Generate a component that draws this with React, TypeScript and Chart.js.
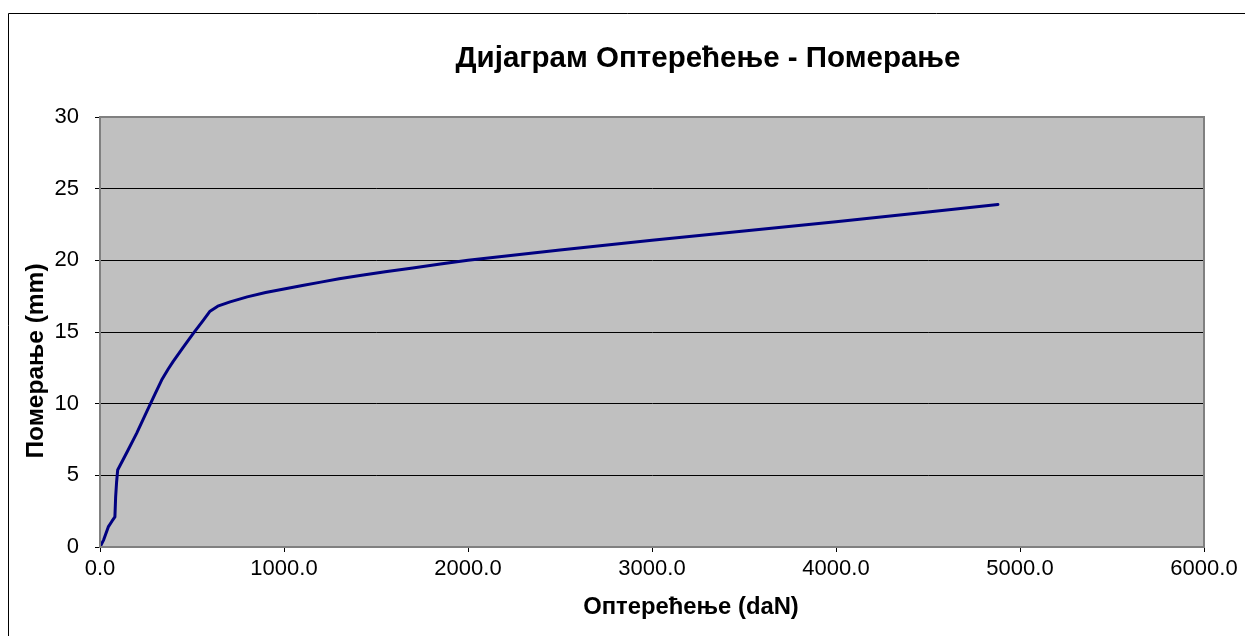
import React, { useEffect, useRef } from "react";
import { Chart, registerables } from "chart.js";

Chart.register(...registerables);

const loadDaN: number[] = [0, 20, 45, 65, 81, 85, 90, 96, 150, 199, 254, 300, 335, 370, 398, 450, 507, 560, 598, 640, 707, 800, 900, 1000, 1100, 1200, 1300, 1413, 1550, 1700, 1850, 2000, 2500, 3000, 3500, 4000, 4500, 4880];
const displacementMm: number[] = [0, 0.5, 1.4, 1.8, 2.1, 3.5, 4.5, 5.37, 6.7, 7.93, 9.44, 10.7, 11.65, 12.4, 12.95, 13.9, 14.9, 15.8, 16.45, 16.8, 17.1, 17.45, 17.75, 18.0, 18.25, 18.48, 18.71, 18.94, 19.2, 19.47, 19.74, 20.0, 20.72, 21.4, 22.05, 22.7, 23.38, 23.9];

const chartTitle = "Дијаграм Оптерећење - Померање";
const xTitle = "Оптерећење (daN)";
const yTitle = "Померање (mm)";

const FONT = "Arial, 'Liberation Sans', sans-serif";

export default function App() {
  const ref = useRef<HTMLCanvasElement | null>(null);

  useEffect(() => {
    if (!ref.current) return;
    const decor = {
      id: "decor",
      beforeDraw(chart: any) {
        const { ctx, chartArea: a } = chart;
        ctx.save();
        ctx.fillStyle = "#ffffff";
        ctx.fillRect(0, 0, chart.width, chart.height);
        ctx.fillStyle = "#c0c0c0";
        ctx.fillRect(a.left, a.top, a.right - a.left, a.bottom - a.top);
        ctx.strokeStyle = "#000000";
        ctx.lineWidth = 1;
        ctx.beginPath();
        ctx.moveTo(8.5, chart.height + 5);
        ctx.lineTo(8.5, 13.5);
        ctx.lineTo(chart.width + 5, 13.5);
        ctx.stroke();
        ctx.restore();
      },
      afterDraw(chart: any) {
        const { ctx, chartArea: a } = chart;
        ctx.save();
        ctx.strokeStyle = "#808080";
        ctx.lineWidth = 2;
        ctx.strokeRect(a.left, a.top, a.right - a.left, a.bottom - a.top);
        ctx.fillStyle = "#000000";
        ctx.textAlign = "center";
        ctx.textBaseline = "middle";
        ctx.font = `bold 29.5px ${FONT}`;
        ctx.fillText(chartTitle, 708, 59);
        ctx.font = `bold 23.8px ${FONT}`;
        ctx.fillText(xTitle, 691, 607);
        ctx.translate(36, 361);
        ctx.rotate(-Math.PI / 2);
        ctx.font = `bold 24.5px ${FONT}`;
        ctx.fillText(yTitle, 0, 0);
        ctx.restore();
      },
    };

    const chart = new Chart(ref.current, {
      type: "scatter",
      data: {
        datasets: [
          {
            data: loadDaN.map((x, i) => ({ x, y: displacementMm[i] })),
            showLine: true,
            borderColor: "#000080",
            borderWidth: 3,
            borderJoinStyle: "round",
            borderCapStyle: "round",
            pointRadius: 0,
            tension: 0,
          } as any,
        ],
      },
      options: {
        animation: false,
        responsive: false,
        devicePixelRatio: 1,
        layout: { padding: { left: 0, right: 41, top: 117, bottom: 0 } },
        plugins: { legend: { display: false }, tooltip: { enabled: false }, title: { display: false } },
        scales: {
          x: {
            type: "linear",
            min: 0,
            max: 6000,
            afterFit: (s: any) => { s.height = 89; },
            ticks: {
              stepSize: 1000,
              color: "#000",
              font: { family: FONT, size: 22 },
              padding: 4,
              maxRotation: 0,
              callback: (v: any) => Number(v).toFixed(1),
            },
            grid: { drawOnChartArea: false, drawTicks: true, tickLength: 5, color: "#000", lineWidth: 1 },
            border: { display: true, color: "#000", width: 1 },
          },
          y: {
            type: "linear",
            min: 0,
            max: 30,
            afterFit: (s: any) => { s.width = 100; },
            ticks: {
              stepSize: 5,
              color: "#000",
              font: { family: FONT, size: 22 },
              padding: 16,
            },
            grid: { drawOnChartArea: true, drawTicks: true, tickLength: 5, color: "#000", lineWidth: 1 },
            border: { display: true, color: "#000", width: 1 },
          },
        },
      },
      plugins: [decor],
    });
    return () => chart.destroy();
  }, []);

  return (
    <div style={{ position: "fixed", left: 0, top: 0, width: 1245, height: 636 }}>
      <canvas ref={ref} width={1245} height={636} style={{ width: 1245, height: 636 }} />
    </div>
  );
}
